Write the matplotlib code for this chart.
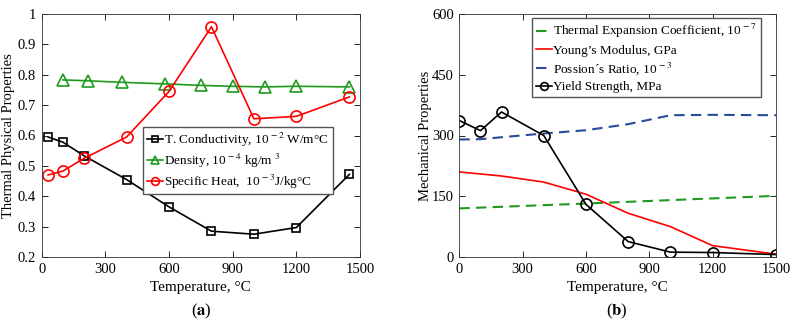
import numpy as np
import matplotlib
matplotlib.use('Agg')
import matplotlib.pyplot as plt

plt.rcParams['font.family'] = ['Liberation Serif', 'DejaVu Serif']
plt.rcParams['mathtext.fontset'] = 'stix'

# (a) thermal physical properties
tCond = [30, 100, 200, 400, 600, 800, 1000, 1200, 1450]
cond = [0.595, 0.578, 0.533, 0.455, 0.365, 0.285, 0.275, 0.297, 0.472]

tDens = [100, 220, 380, 580, 750, 900, 1050, 1200, 1450]
dens = [0.783, 0.780, 0.775, 0.770, 0.765, 0.762, 0.760, 0.762, 0.760]

tHeat = [30, 100, 200, 400, 600, 800, 1000, 1200, 1450]
heat = [0.470, 0.483, 0.525, 0.595, 0.745, 0.958, 0.655, 0.663, 0.727]

# (b) mechanical properties
tExp = [0, 600, 1500]
expCoef = [120, 132, 151]

tYoung = [0, 200, 400, 600, 800, 1000, 1200, 1500]
young = [210, 200, 185, 155, 108, 75, 28, 7]

tPois = [0, 100, 400, 600, 800, 1000, 1200, 1500]
pois = [290, 291, 305, 313, 328, 350, 351, 350]

tYield = [0, 100, 200, 400, 600, 800, 1000, 1200, 1500]
yieldS = [337, 312, 358, 300, 130, 38, 12, 11, 6]

fig = plt.figure(figsize=(7.93, 3.23), dpi=100)
W, H = 793, 323
axA = fig.add_axes([41.7/W, 66/H, 318.3/W, 243/H])
axB = fig.add_axes([459.3/W, 66/H, 316.7/W, 243/H])

green = '#1f9a1f'
blue = '#2b4a9e'

axA.plot(tCond, cond, '-s', color='k', lw=1.2, ms=6, mfc='none', mew=1.2,
         label=r'T. Conductivity, 10$^{\,-2}$ W/m°C')
axA.plot(tDens, dens, '-^', color=green, lw=1.2, ms=8, mfc='none', mew=1.2,
         label=r'Density, 10$^{\,-4}$ kg/m $^{3}$')
axA.plot(tHeat, heat, '-o', color='red', lw=1.2, ms=8, mfc='none', mew=1.2,
         label=r'Specific Heat,  10$^{\,-3}$J/kg°C')

axA.set_xlim(0, 1500)
axA.set_ylim(0.2, 1.0)
axA.set_xticks(np.arange(0, 1501, 300))
yt = np.arange(0.2, 1.01, 0.1)
axA.set_yticks(yt)
axA.set_yticklabels(['0.2', '0.3', '0.4', '0.5', '0.6', '0.7', '0.8', '0.9', '1'])
axA.set_xlabel('Temperature, °C', fontsize=11, labelpad=4)
axA.set_ylabel('Thermal Physical Properties', fontsize=10.5, labelpad=2)
axA.legend(loc='upper left', bbox_to_anchor=(0.318, 0.535), fontsize=9.5,
           handlelength=1.2, handletextpad=0.1, borderpad=0.3, labelspacing=0.2,
           markerscale=0.7, fancybox=False, edgecolor='#555555', framealpha=1,
           borderaxespad=0)

axB.plot(tExp, expCoef, '--', color=green, lw=1.5, dashes=(5, 3),
         label=r'Thermal Expansion Coefficient, 10$^{\,-7}$')
axB.plot(tYoung, young, '-', color='red', lw=1.2,
         label='Young’s Modulus, GPa')
axB.plot(tPois, pois, '--', color=blue, lw=1.5, dashes=(5, 3),
         label=r'Possion´s Ratio, 10$^{\,-3}$')
axB.plot(tYield, yieldS, '-o', color='k', lw=1.2, ms=8, mfc='none', mew=1.2,
         label='Yield Strength, MPa')

axB.set_xlim(0, 1500)
axB.set_ylim(0, 600)
axB.set_xticks(np.arange(0, 1501, 300))
axB.set_yticks(np.arange(0, 601, 150))
axB.set_xlabel('Temperature, °C', fontsize=11, labelpad=4)
axB.set_ylabel('Mechanical Properties', fontsize=10.5, labelpad=0)
axB.legend(loc='upper left', bbox_to_anchor=(0.230, 0.982), fontsize=9.5,
           handlelength=1.2, handletextpad=0.1, borderpad=0.3, labelspacing=0.3,
           markerscale=0.7, fancybox=False, edgecolor='#555555', framealpha=1,
           borderaxespad=0)

for ax in (axA, axB):
    ax.tick_params(direction='in', top=True, right=True, labelsize=10.5,
                   length=4, width=0.6, pad=4)
    for s in ax.spines.values():
        s.set_linewidth(0.6)
        s.set_color('#333333')

fig.text(201/W, 1 - 311/H, r'($\mathbf{a}$)', ha='center', va='center', fontsize=12)
fig.text(617/W, 1 - 311/H, r'($\mathbf{b}$)', ha='center', va='center', fontsize=12)

fig.savefig('out.png', dpi=100)
